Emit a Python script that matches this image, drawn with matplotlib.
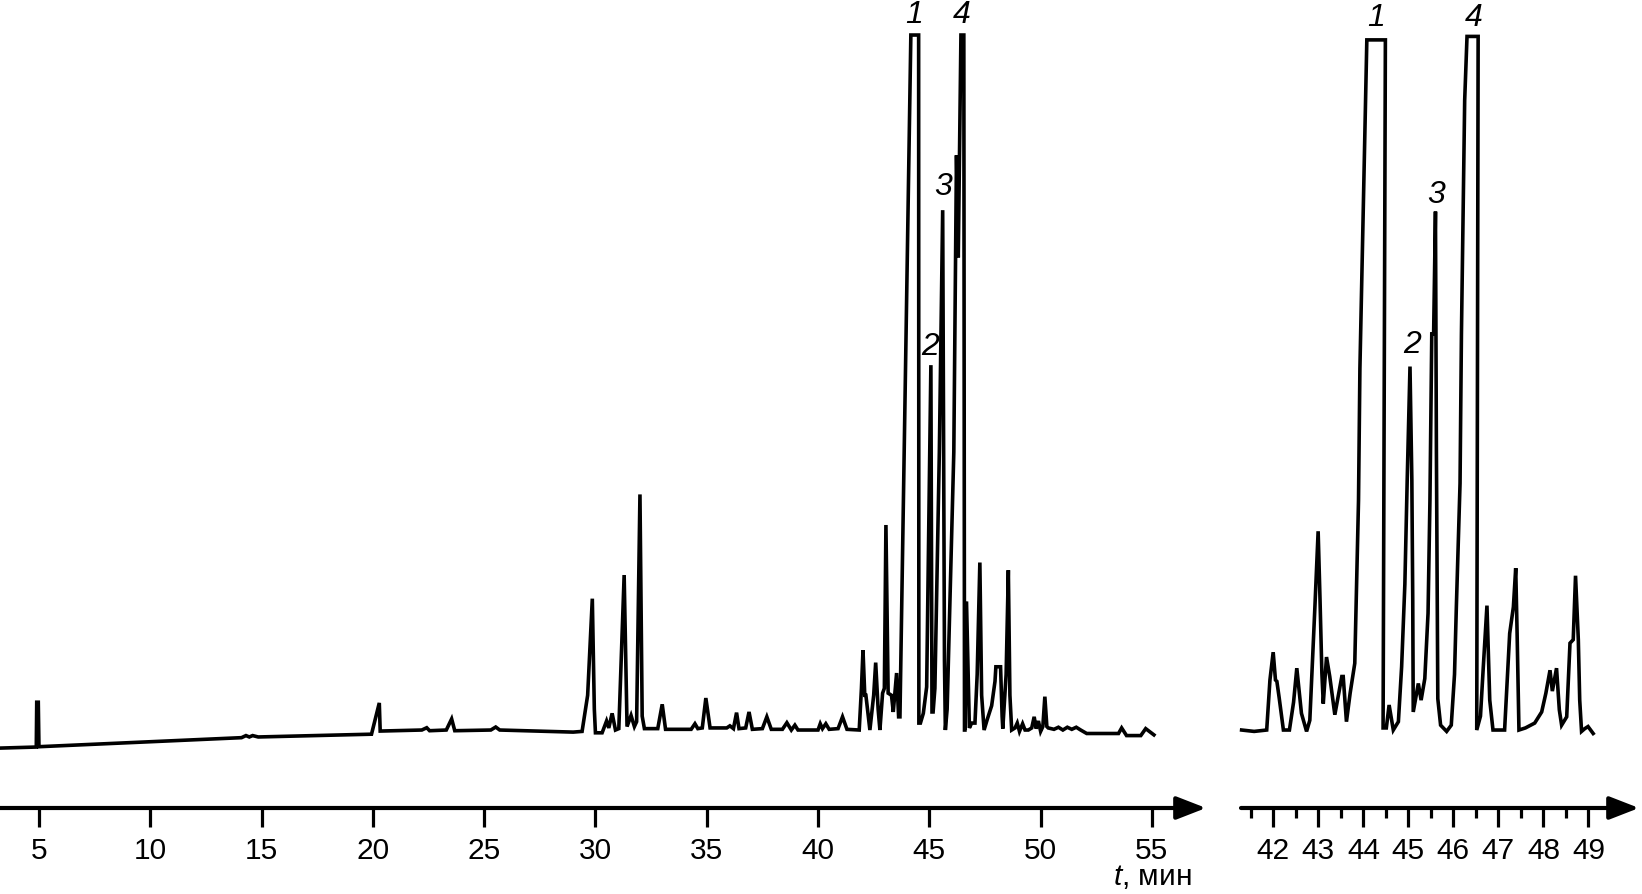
import matplotlib
matplotlib.use("Agg")
import matplotlib.pyplot as plt

plt.rcParams['font.family'] = ['Liberation Sans', 'DejaVu Sans']
plt.rcParams['mathtext.fontset'] = 'custom'
plt.rcParams['mathtext.it'] = 'Liberation Sans:italic'
plt.rcParams['mathtext.rm'] = 'Liberation Sans'

# ---------------- data: full chromatogram (t, min ; signal, % of scale) ----------------
full_t = [3.25, 4.88, 4.90, 4.97, 5.00, 14.10, 14.30, 14.45, 14.60, 14.85, 19.94, 20.29, 20.33,
          22.20, 22.42, 22.55, 23.30, 23.54, 23.68, 25.30, 25.52, 25.70, 29.00, 29.40, 29.65,
          29.86, 29.95, 30.00, 30.30, 30.50, 30.60, 30.75, 30.90, 31.05, 31.29, 31.42, 31.60,
          31.75, 31.85, 32.00, 32.10, 32.20, 32.80, 33.00, 33.15, 34.30, 34.47, 34.60, 34.80,
          34.96, 35.15, 35.90, 36.04, 36.20, 36.34, 36.45, 36.75, 36.90, 37.05, 37.50, 37.70,
          37.90, 38.40, 38.60, 38.80, 38.96, 39.10, 40.00, 40.10, 40.20, 40.35, 40.50, 40.90,
          41.10, 41.30, 41.85, 41.95, 42.02, 42.10, 42.15, 42.33, 42.50, 42.59, 42.70, 42.78,
          42.90, 42.98, 43.05, 43.15, 43.30, 43.38, 43.53, 43.62, 43.68, 44.17, 44.52, 44.53,
          44.60, 44.73, 44.88, 45.07, 45.12, 45.17, 45.25, 45.45, 45.60, 45.68, 45.72, 45.80,
          46.10, 46.22, 46.30, 46.42, 46.55, 46.58, 46.60, 46.67, 46.80, 46.90, 47.05, 47.15,
          47.27, 47.35, 47.46, 47.60, 47.80, 47.95, 47.99, 48.20, 48.27, 48.30, 48.45, 48.55,
          48.62, 48.70, 48.85, 48.95, 49.05, 49.19, 49.30, 49.45, 49.60, 49.71, 49.80, 49.90,
          50.00, 50.10, 50.19, 50.28, 50.34, 50.60, 50.80, 51.00, 51.20, 51.40, 51.60, 51.80,
          52.07, 53.50, 53.64, 53.86, 54.50, 54.72, 55.09]
full_v = [-2.6, -2.45, 4.0, 4.0, -2.4, -1.1, -0.8, -1.0, -0.8, -1.0, -0.6, 3.9, -0.15,
          0.0, 0.33, -0.1, 0.0, 1.6, -0.1, 0.0, 0.43, 0.0, -0.3, -0.2, 5.0,
          18.9, 3.0, -0.4, -0.4, 1.3, 0.3, 2.4, 0.0, 0.2, 22.3, 0.5, 2.1,
          0.5, 1.2, 33.9, 2.0, 0.2, 0.2, 3.7, 0.1, 0.1, 0.9, 0.2, 0.3,
          4.6, 0.3, 0.3, 0.6, 0.2, 2.5, 0.2, 0.3, 2.6, 0.1, 0.2, 1.9,
          0.1, 0.1, 1.05, 0.0, 0.7, 0.0, 0.0, 0.9, 0.2, 0.9, 0.1, 0.2,
          1.9, 0.1, 0.0, 6.0, 11.5, 5.0, 5.0, 0.0, 5.0, 9.7, 3.0, 0.0,
          5.3, 6.0, 29.5, 5.3, 5.0, 2.6, 8.2, 1.9, 1.9, 100.0, 100.0, 1.0,
          1.0, 2.4, 6.2, 52.5, 2.6, 2.6, 6.0, 40.0, 74.8, 10.0, 0.0, 3.0,
          40.0, 82.7, 68.0, 100.0, 100.0, 0.0, 0.0, 18.5, 0.3, 1.0, 1.0, 8.0,
          24.1, 5.0, 0.0, 1.5, 3.5, 7.0, 9.1, 9.1, 2.0, 0.2, 8.0, 23.0,
          5.0, 0.0, 0.3, 1.0, -0.2, 0.9, 0.0, 0.0, 0.3, 1.9, 0.2, 1.3,
          -0.2, 0.5, 4.8, 0.5, 0.3, 0.1, 0.4, 0.0, 0.4, 0.1, 0.4, 0.0,
          -0.5, -0.5, 0.3, -0.8, -0.8, 0.2, -0.7]

# ---------------- data: expanded fragment 41.3-49 min ----------------
zoom_t = [41.294, 41.572, 41.851, 41.923, 41.995, 42.046, 42.077, 42.129, 42.222, 42.356,
          42.448, 42.520, 42.623, 42.737, 42.809, 42.922, 42.994, 43.036, 43.077, 43.108,
          43.180, 43.252, 43.365, 43.520, 43.551, 43.623, 43.705, 43.808, 43.891, 43.922,
          44.076, 44.488, 44.437, 44.509, 44.571, 44.664, 44.777, 44.849, 44.921, 44.973,
          45.035, 45.076, 45.096, 45.107, 45.220, 45.282, 45.364, 45.436, 45.478, 45.519,
          45.560, 45.601, 45.622, 45.653, 45.715, 45.849, 45.952, 46.024, 46.065, 46.147,
          46.178, 46.250, 46.302, 46.549, 46.518, 46.601, 46.663, 46.745, 46.807, 46.879,
          47.137, 47.250, 47.332, 47.384, 47.415, 47.456, 47.600, 47.806, 47.961, 48.054,
          48.146, 48.198, 48.291, 48.353, 48.404, 48.517, 48.590, 48.662, 48.713, 48.775,
          48.806, 48.847, 48.919, 48.991, 49.105]
zoom_v = [0.0, -0.2, 0.0, 7.2, 11.2, 7.2, 7.0, 4.6, 0.0, 0.0,
          4.0, 8.9, 2.4, -0.2, 1.4, 17.7, 28.6, 18.7, 8.2, 3.8,
          10.5, 7.7, 2.2, 7.7, 7.7, 1.2, 5.3, 9.6, 33.0, 52.0,
          99.3, 99.3, 0.3, 0.3, 3.6, 0.0, 1.2, 9.1, 21.0, 36.0,
          52.3, 36.0, 18.7, 2.6, 6.7, 4.3, 7.4, 16.8, 33.0, 57.0,
          57.0, 74.6, 40.0, 4.5, 0.7, -0.2, 0.7, 8.0, 17.7, 35.5,
          57.0, 90.6, 99.8, 99.8, 0.0, 2.0, 9.0, 17.9, 4.3, 0.0,
          0.0, 13.9, 17.7, 23.3, 13.9, 0.0, 0.3, 1.0, 2.6, 5.3,
          8.6, 5.6, 8.9, 2.9, 0.7, 1.9, 12.5, 13.0, 22.2, 13.0,
          4.3, -0.2, 0.2, 0.5, -0.5]

# ---------------- axis ticks and peak labels ----------------
full_ticks = [5, 10, 15, 20, 25, 30, 35, 40, 45, 50, 55]
zoom_major = [42, 43, 44, 45, 46, 47, 48, 49]
zoom_minor = [41.5, 42.5, 43.5, 44.5, 45.5, 46.5, 47.5, 48.5]

peak_names = ['1', '2', '3', '4']
full_label_t = [44.31, 45.03, 45.61, 46.45]
full_label_v = [102.9, 55.1, 78.1, 102.9]
zoom_label_t = [44.29, 45.08, 45.61, 46.44]
zoom_label_v = [102.4, 55.4, 77.0, 102.4]

W, H = 1642, 894
fig = plt.figure(figsize=(W / 100, H / 100), dpi=100)

ybot, ytop = -11.22, 105.04
ax_bottom = (H - 808) / H

FS = 21.5
LW = 2.6


def style_axis(ax, width_px):
    for s in ['top', 'right', 'left', 'bottom']:
        ax.spines[s].set_visible(False)
    ax.set_yticks([])
    ax.set_ylim(ybot, ytop)
    ax.tick_params(axis='x', which='major', direction='out', length=13.7, width=2.3,
                   labelsize=FS, pad=7.5, color='black')
    ax.tick_params(axis='x', which='minor', direction='out', length=7.2, width=2.3)
    ax.annotate('', xy=(1 + 6 / width_px, 0), xytext=(0, 0), xycoords='axes fraction',
                textcoords='axes fraction',
                arrowprops=dict(arrowstyle='-|>,head_length=0.9,head_width=0.35',
                                lw=3.0, color='black', shrinkA=0, shrinkB=0,
                                mutation_scale=20),
                annotation_clip=False)
    ax.patch.set_visible(False)


# left panel: full chromatogram
x0, x1 = 0, 1200
ax1 = fig.add_axes([x0 / W, ax_bottom, (x1 - x0) / W, 1 - ax_bottom])
ax1.plot(full_t, full_v, color='black', lw=LW, solid_joinstyle='miter', clip_on=False)
ax1.set_xlim(3.25, 57.16)
ax1.set_xticks(full_ticks)
style_axis(ax1, x1 - x0)
for name, t, v in zip(peak_names, full_label_t, full_label_v):
    ax1.text(t, v, name, fontsize=23, fontstyle='italic', ha='center', va='center')

# right panel: expanded fragment
x0, x1 = 1241, 1633
ax2 = fig.add_axes([x0 / W, ax_bottom, (x1 - x0) / W, 1 - ax_bottom])
ax2.plot(zoom_t, zoom_v, color='black', lw=LW, solid_joinstyle='miter', clip_on=False)
ax2.set_xlim(41.28, 49.99)
ax2.set_xticks(zoom_major)
ax2.set_xticks(zoom_minor, minor=True)
style_axis(ax2, x1 - x0)
for name, t, v in zip(peak_names, zoom_label_t, zoom_label_v):
    ax2.text(t, v, name, fontsize=23, fontstyle='italic', ha='center', va='center')

fig.text(1152 / W, 1 - 877 / H, r'$\mathit{t}$, мин', fontsize=FS, ha='center', va='center')

fig.savefig('out.png', dpi=100)
